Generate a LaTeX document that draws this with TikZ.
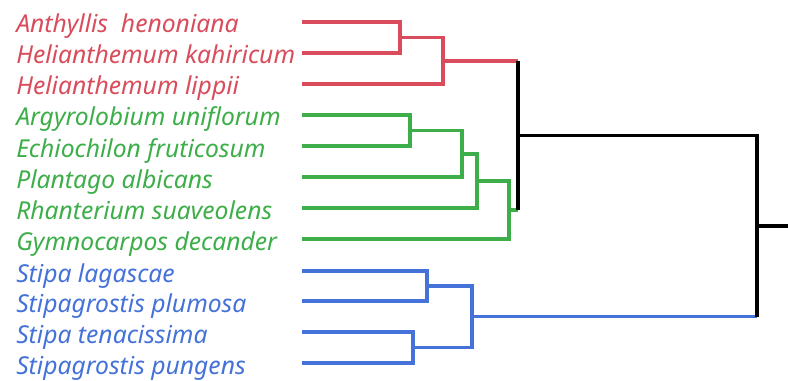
\documentclass[tikz,border=0pt]{standalone}
\usepackage{fontspec}
\setmainfont{Noto Sans}
\usepackage{tikz}
\definecolor{cladered}{RGB}{217,76,92}
\definecolor{cladegreen}{RGB}{61,174,73}
\definecolor{cladeblue}{RGB}{68,114,217}
\tikzset{
  taxon/.style={anchor=base west, inner sep=0pt, font=\itshape\fontsize{18.5}{20}\selectfont},
  branch/.style={line width=2.4pt},
  stem/.style={line width=2.9pt, color=black}
}

\begin{document}
\begin{tikzpicture}[x=0.75pt,y=-0.75pt]
    \useasboundingbox (0,0) rectangle (788,381);

    % taxa
    \node[taxon, text=cladered] (t1) at (16,33) {Anthyllis\ \ henoniana};
    \node[taxon, text=cladered] (t2) at (16,64) {Helianthemum kahiricum};
    \node[taxon, text=cladered] (t3) at (16,95) {Helianthemum lippii};
    \node[taxon, text=cladegreen] (t4) at (16,126) {Argyrolobium uniflorum};
    \node[taxon, text=cladegreen] (t5) at (16,157) {Echiochilon fruticosum};
    \node[taxon, text=cladegreen] (t6) at (16,188) {Plantago albicans};
    \node[taxon, text=cladegreen] (t7) at (16,219) {Rhanterium suaveolens};
    \node[taxon, text=cladegreen] (t8) at (16,250) {Gymnocarpos decander};
    \node[taxon, text=cladeblue] (t9) at (16,282) {Stipa lagascae};
    \node[taxon, text=cladeblue] (t10) at (16,312) {Stipagrostis plumosa};
    \node[taxon, text=cladeblue] (t11) at (16,343) {Stipa tenacissima};
    \node[taxon, text=cladeblue] (t12) at (16,374) {Stipagrostis pungens};

    % leaf ends
    \coordinate (a1) at (302,22);
    \coordinate (a2) at (302,53);
    \coordinate (a3) at (302,84);
    \coordinate (a4) at (302,115);
    \coordinate (a5) at (302,146);
    \coordinate (a6) at (302,177);
    \coordinate (a7) at (302,208);
    \coordinate (a8) at (302,239);
    \coordinate (a9) at (302,271);
    \coordinate (a10) at (302,301);
    \coordinate (a11) at (302,332);
    \coordinate (a12) at (302,363);

    % joins
    \coordinate (r1) at (400,37.5);
    \coordinate (r2) at (443,61);
    \coordinate (g1) at (410,130.5);
    \coordinate (g2) at (462,154);
    \coordinate (g3) at (477,181);
    \coordinate (g4) at (509,210);
    \coordinate (b1) at (427,286);
    \coordinate (b2) at (413,347.5);
    \coordinate (b3) at (472,316.5);
    \coordinate (top) at (518,135.5);
    \coordinate (root) at (757,226);
    \coordinate (tail) at (788,226);

    \draw[branch, cladered] (a1) -| (r1) |- (a2);
    \draw[branch, cladered] (r1) -| (r2) |- (a3);
    \draw[branch, cladered] (r2) -- (r2 -| top);

    \draw[branch, cladegreen] (a4) -| (g1) |- (a5);
    \draw[branch, cladegreen] (g1) -| (g2) |- (a6);
    \draw[branch, cladegreen] (g2) -| (g3) |- (a7);
    \draw[branch, cladegreen] (g3) -| (g4) |- (a8);
    \draw[branch, cladegreen] (g4) -- (g4 -| top);

    \draw[branch, cladeblue] (a9) -| (b1) |- (a10);
    \draw[branch, cladeblue] (a11) -| (b2) |- (a12);
    \draw[branch, cladeblue] (b1) -| (b3) |- (b2);
    \draw[branch, cladeblue] (b3) -- (b3 -| root);

    \draw[stem] (r2 -| top) -- (g4 -| top);
    \draw[branch, black] (top) -| (root) -- (b3 -| root);
    \draw[branch, black] (root) -- (tail);
  \end{tikzpicture}
\end{document}
